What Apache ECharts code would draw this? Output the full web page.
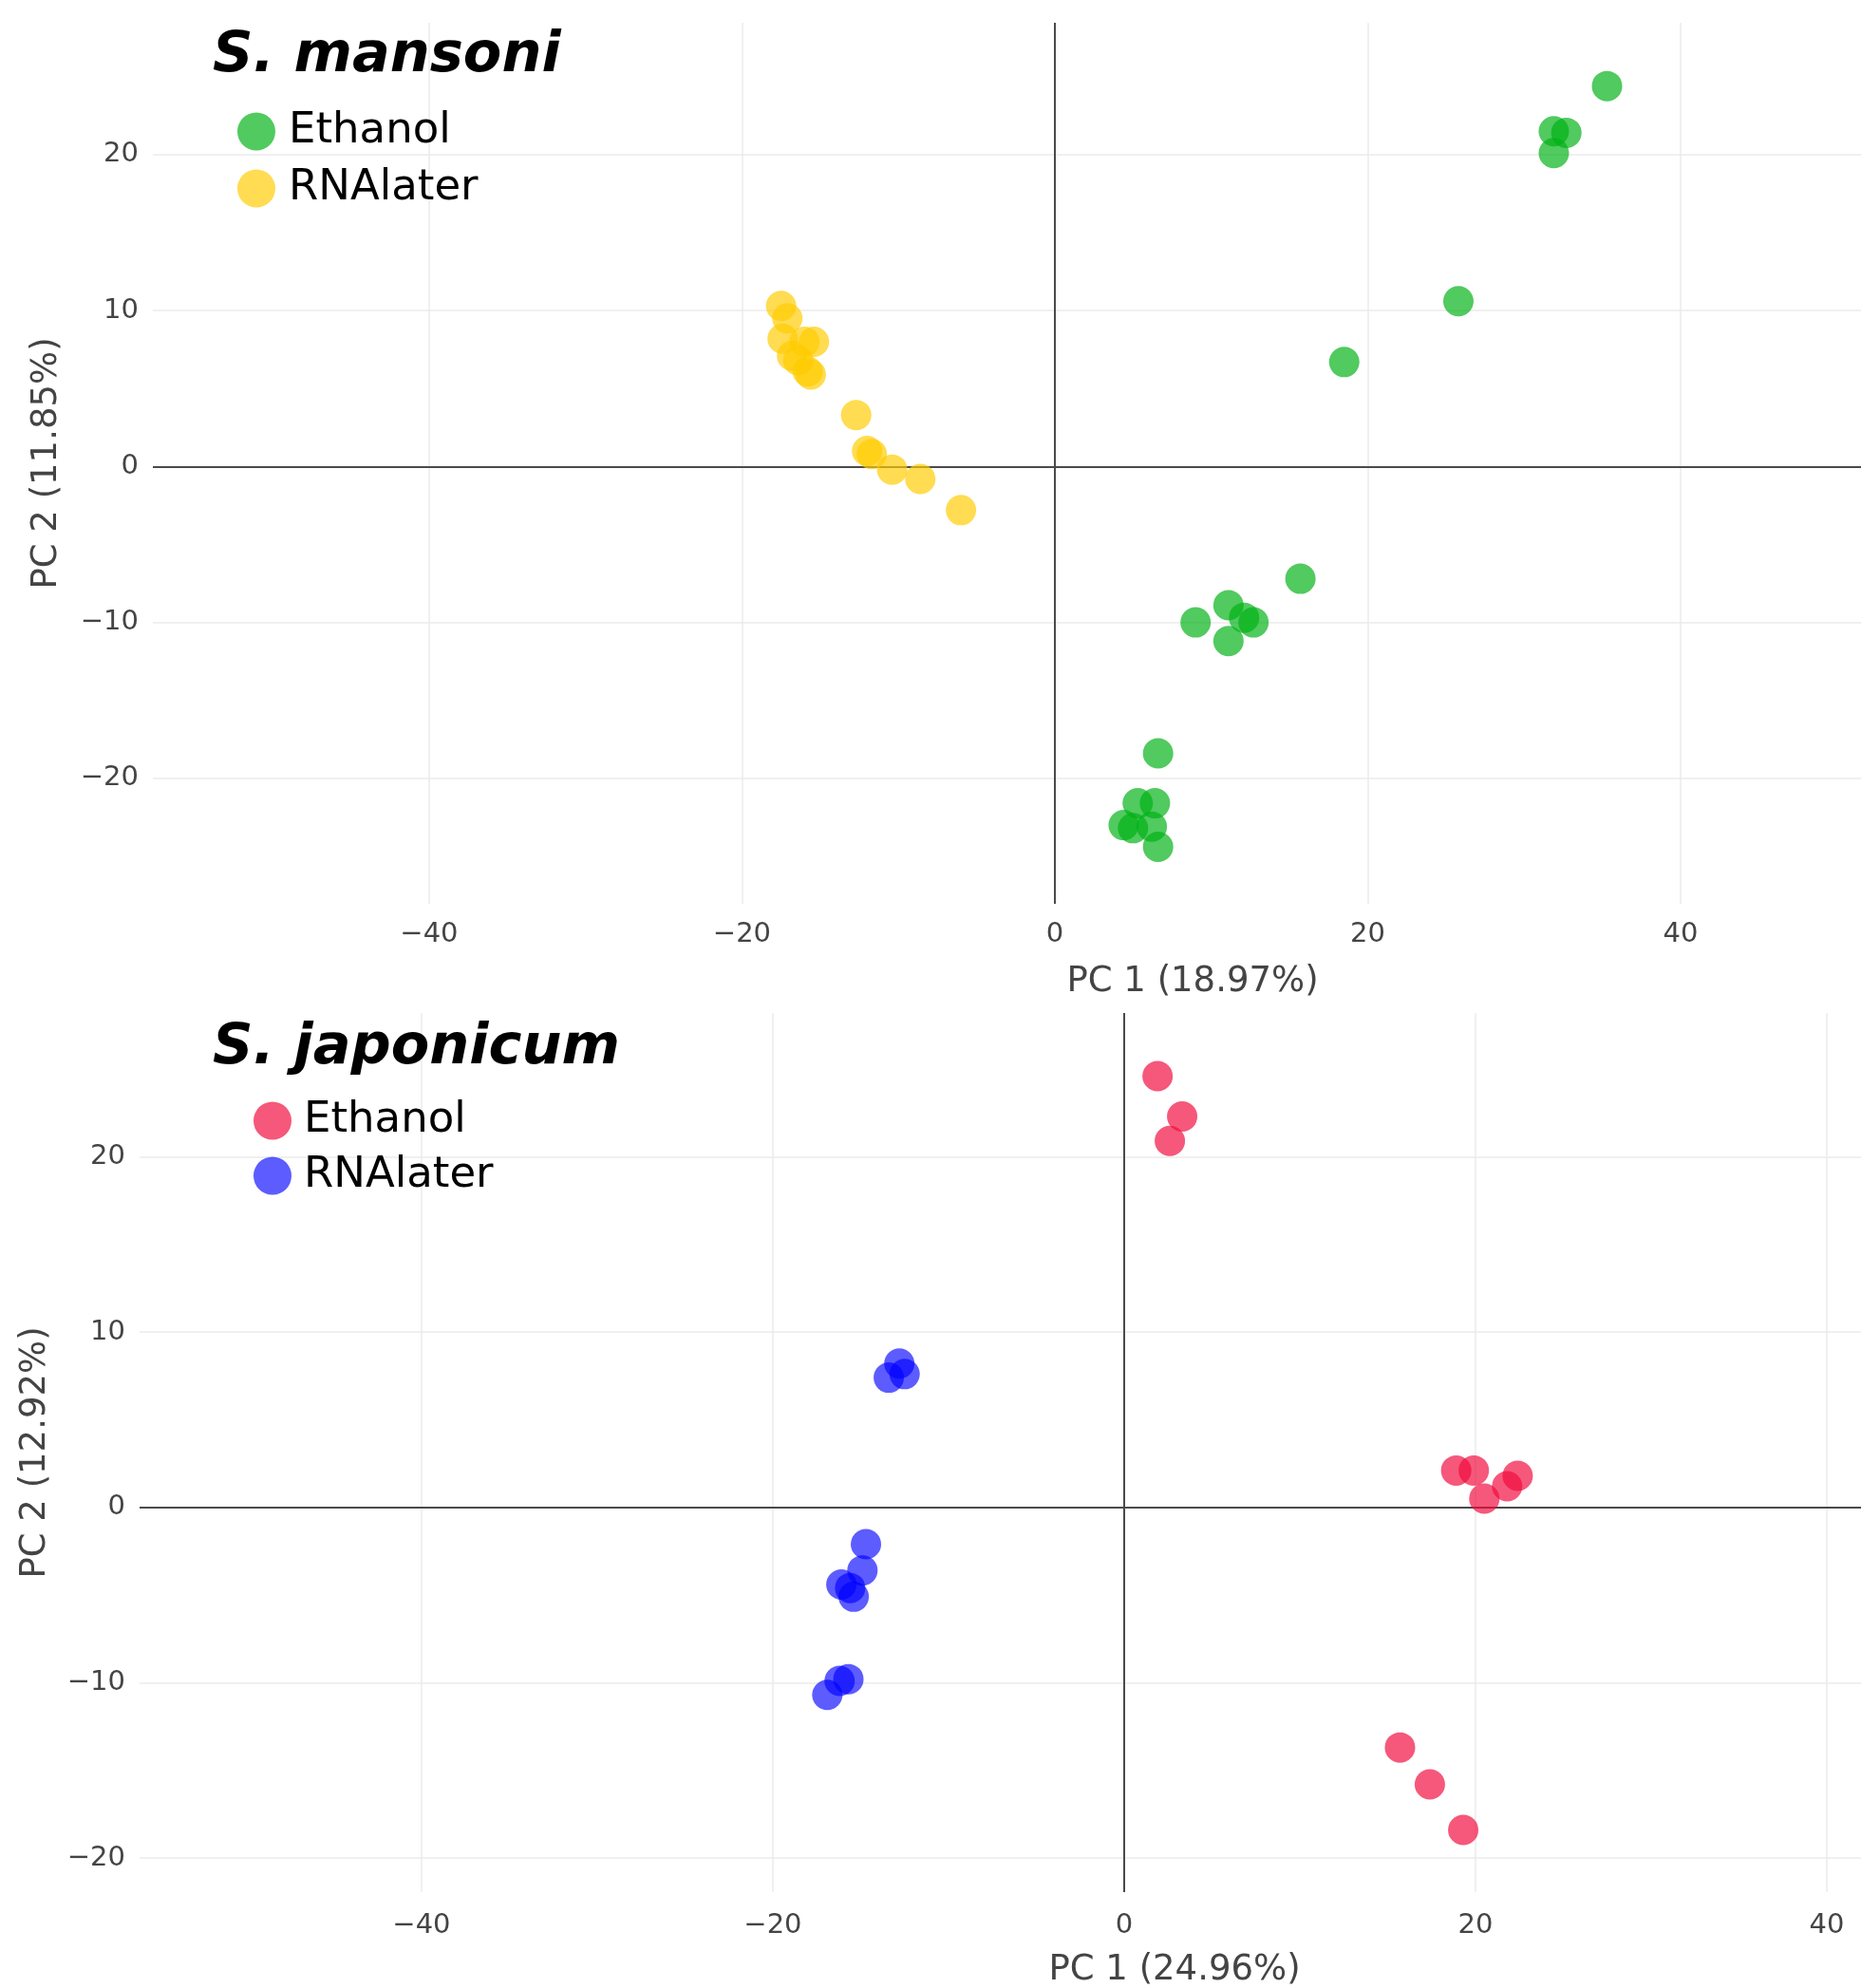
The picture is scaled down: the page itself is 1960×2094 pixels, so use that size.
<!DOCTYPE html>
<html>
<head>
<meta charset="utf-8">
<script src="https://cdn.jsdelivr.net/npm/echarts@6/dist/echarts.min.js"></script>
<style>html,body{margin:0;padding:0;background:#fff}#chart{width:1960px;height:2094px}</style>
</head>
<body>
<div id="chart"></div>
<script>
// ---- Data ----
const topTitle = 'S. mansoni';
const bottomTitle = 'S. japonicum';
const groups = ['Ethanol', 'RNAlater'];

const topXName = 'PC 1 (18.97%)';
const topYName = 'PC 2 (11.85%)';
const bottomXName = 'PC 1 (24.96%)';
const bottomYName = 'PC 2 (12.92%)';

const topXRange = [-57.66, 75.27];
const topYRange = [-28.05, 28.46];
const bottomXRange = [-56.05, 61.78];
const bottomYRange = [-21.95, 28.2];

const smEthanolX = [35.3, 31.9, 32.7, 31.9, 25.8, 18.5, 15.7, 11.1, 9.0, 12.1, 12.7, 11.1, 6.6, 5.3, 6.4, 4.4, 5.0, 6.2, 6.6];
const smEthanolY = [24.4, 21.5, 21.4, 20.1, 10.6, 6.7, -7.2, -8.9, -10.0, -9.7, -10.0, -11.2, -18.4, -21.6, -21.6, -23.0, -23.2, -23.1, -24.4];

const smRNAlaterX = [-17.5, -17.1, -17.4, -16.0, -15.4, -16.8, -16.4, -15.8, -15.6, -12.7, -12.0, -11.7, -10.4, -8.6, -6.0];
const smRNAlaterY = [10.3, 9.5, 8.2, 8.0, 8.0, 7.1, 6.8, 6.1, 5.9, 3.3, 1.0, 0.8, -0.2, -0.8, -2.8];

const sjEthanolX = [1.9, 3.3, 2.6, 18.9, 19.9, 22.4, 21.8, 20.5, 15.7, 17.4, 19.3];
const sjEthanolY = [24.6, 22.3, 20.9, 2.1, 2.1, 1.8, 1.2, 0.5, -13.7, -15.8, -18.4];

const sjRNAlaterX = [-12.8, -13.4, -12.5, -14.7, -14.9, -16.1, -15.6, -15.4, -15.7, -16.2, -16.9];
const sjRNAlaterY = [8.2, 7.4, 7.6, -2.1, -3.6, -4.4, -4.6, -5.1, -9.8, -9.9, -10.7];

// ---- Styles ----
const FONT = 'DejaVu Sans';
const colors = {
  smEthanol: 'rgba(0,178,20,0.85)',
  smRNAlater: 'rgba(255,204,0,0.85)',
  sjEthanol: 'rgba(240,10,60,0.85)',
  sjRNAlater: 'rgba(0,0,255,0.8)'
};

function zip(xs, ys) { return xs.map((x, i) => [x, ys[i]]); }
function fmt(v) {
  if (Math.abs(v % 10) > 1e-6) return '';
  return v < 0 ? '\u2212' + Math.abs(v) : String(v);
}

function makeAxis(gridIndex, range, name, nameGap, margin, splitNumber) {
  return {
    type: 'value',
    gridIndex: gridIndex,
    min: range[0],
    max: range[1],
    splitNumber: splitNumber,
    name: name,
    nameLocation: 'middle',
    nameGap: nameGap,
    nameTextStyle: { fontSize: 37, color: '#444', fontFamily: FONT },
    axisLine: { show: false },
    axisTick: { show: false },
    axisLabel: {
      show: true, fontSize: 29, color: '#444', fontFamily: FONT, margin: margin,
      showMinLabel: false, showMaxLabel: false, formatter: fmt
    },
    splitLine: {
      show: true, showMinLine: false, showMaxLine: false,
      lineStyle: { color: '#ebebeb', width: 1.5 }
    }
  };
}

function scatter(name, xi, xs, ys, color, withZero) {
  const s = {
    type: 'scatter',
    name: name,
    xAxisIndex: xi,
    yAxisIndex: xi,
    symbol: 'circle',
    symbolSize: 32,
    z: 3,
    itemStyle: { color: color },
    emphasis: { disabled: true },
    data: zip(xs, ys)
  };
  if (withZero) {
    s.markLine = {
      silent: true,
      symbol: ['none', 'none'],
      label: { show: false },
      z: 1,
      lineStyle: { color: '#4a4a4a', width: 2, type: 'solid' },
      emphasis: { disabled: true },
      data: [{ xAxis: 0 }, { yAxis: 0 }]
    };
  }
  return s;
}

function legend(prefix, left, top, gap, pad) {
  return {
    data: groups.map(g => prefix + '|' + g),
    orient: 'vertical',
    left: left, top: top, padding: 0,
    itemWidth: 40, itemHeight: 40, itemGap: gap,
    icon: 'circle',
    selectedMode: false,
    formatter: n => n.split('|')[1],
    textStyle: { fontSize: 45, color: '#000', fontFamily: FONT, lineHeight: 40, padding: [0, 0, 0, pad] }
  };
}

const titleStyle = { fontSize: 59, fontWeight: 'bold', fontStyle: 'italic', color: '#000', fontFamily: FONT };

const option = {
  animation: false,
  backgroundColor: '#fff',
  textStyle: { fontFamily: FONT },
  title: [
    { text: topTitle, left: 224, top: 30, padding: 0, textStyle: titleStyle },
    { text: bottomTitle, left: 224, top: 1075, padding: 0, textStyle: titleStyle }
  ],
  legend: [
    legend('sm', 250, 116, 15, 9),
    legend('sj', 267, 1158, 13, 8)
  ],
  grid: [
    { left: 161, top: 24, width: 2190, height: 928, containLabel: false, outerBoundsMode: 'none' },
    { left: 147, top: 1067, width: 2180, height: 926, containLabel: false, outerBoundsMode: 'none' }
  ],
  xAxis: [
    makeAxis(0, topXRange, topXName, 64, 18, 7),
    makeAxis(1, bottomXRange, bottomXName, 64, 21, 7)
  ],
  yAxis: [
    makeAxis(0, topYRange, topYName, 93, 15, 5),
    makeAxis(1, bottomYRange, bottomYName, 91, 15, 5)
  ],
  series: [
    scatter('sm|Ethanol', 0, smEthanolX, smEthanolY, colors.smEthanol, true),
    scatter('sm|RNAlater', 0, smRNAlaterX, smRNAlaterY, colors.smRNAlater, false),
    scatter('sj|Ethanol', 1, sjEthanolX, sjEthanolY, colors.sjEthanol, true),
    scatter('sj|RNAlater', 1, sjRNAlaterX, sjRNAlaterY, colors.sjRNAlater, false)
  ]
};

const chart = echarts.init(document.getElementById('chart'), null, { renderer: 'canvas' });
chart.setOption(option);
</script>
</body>
</html>
